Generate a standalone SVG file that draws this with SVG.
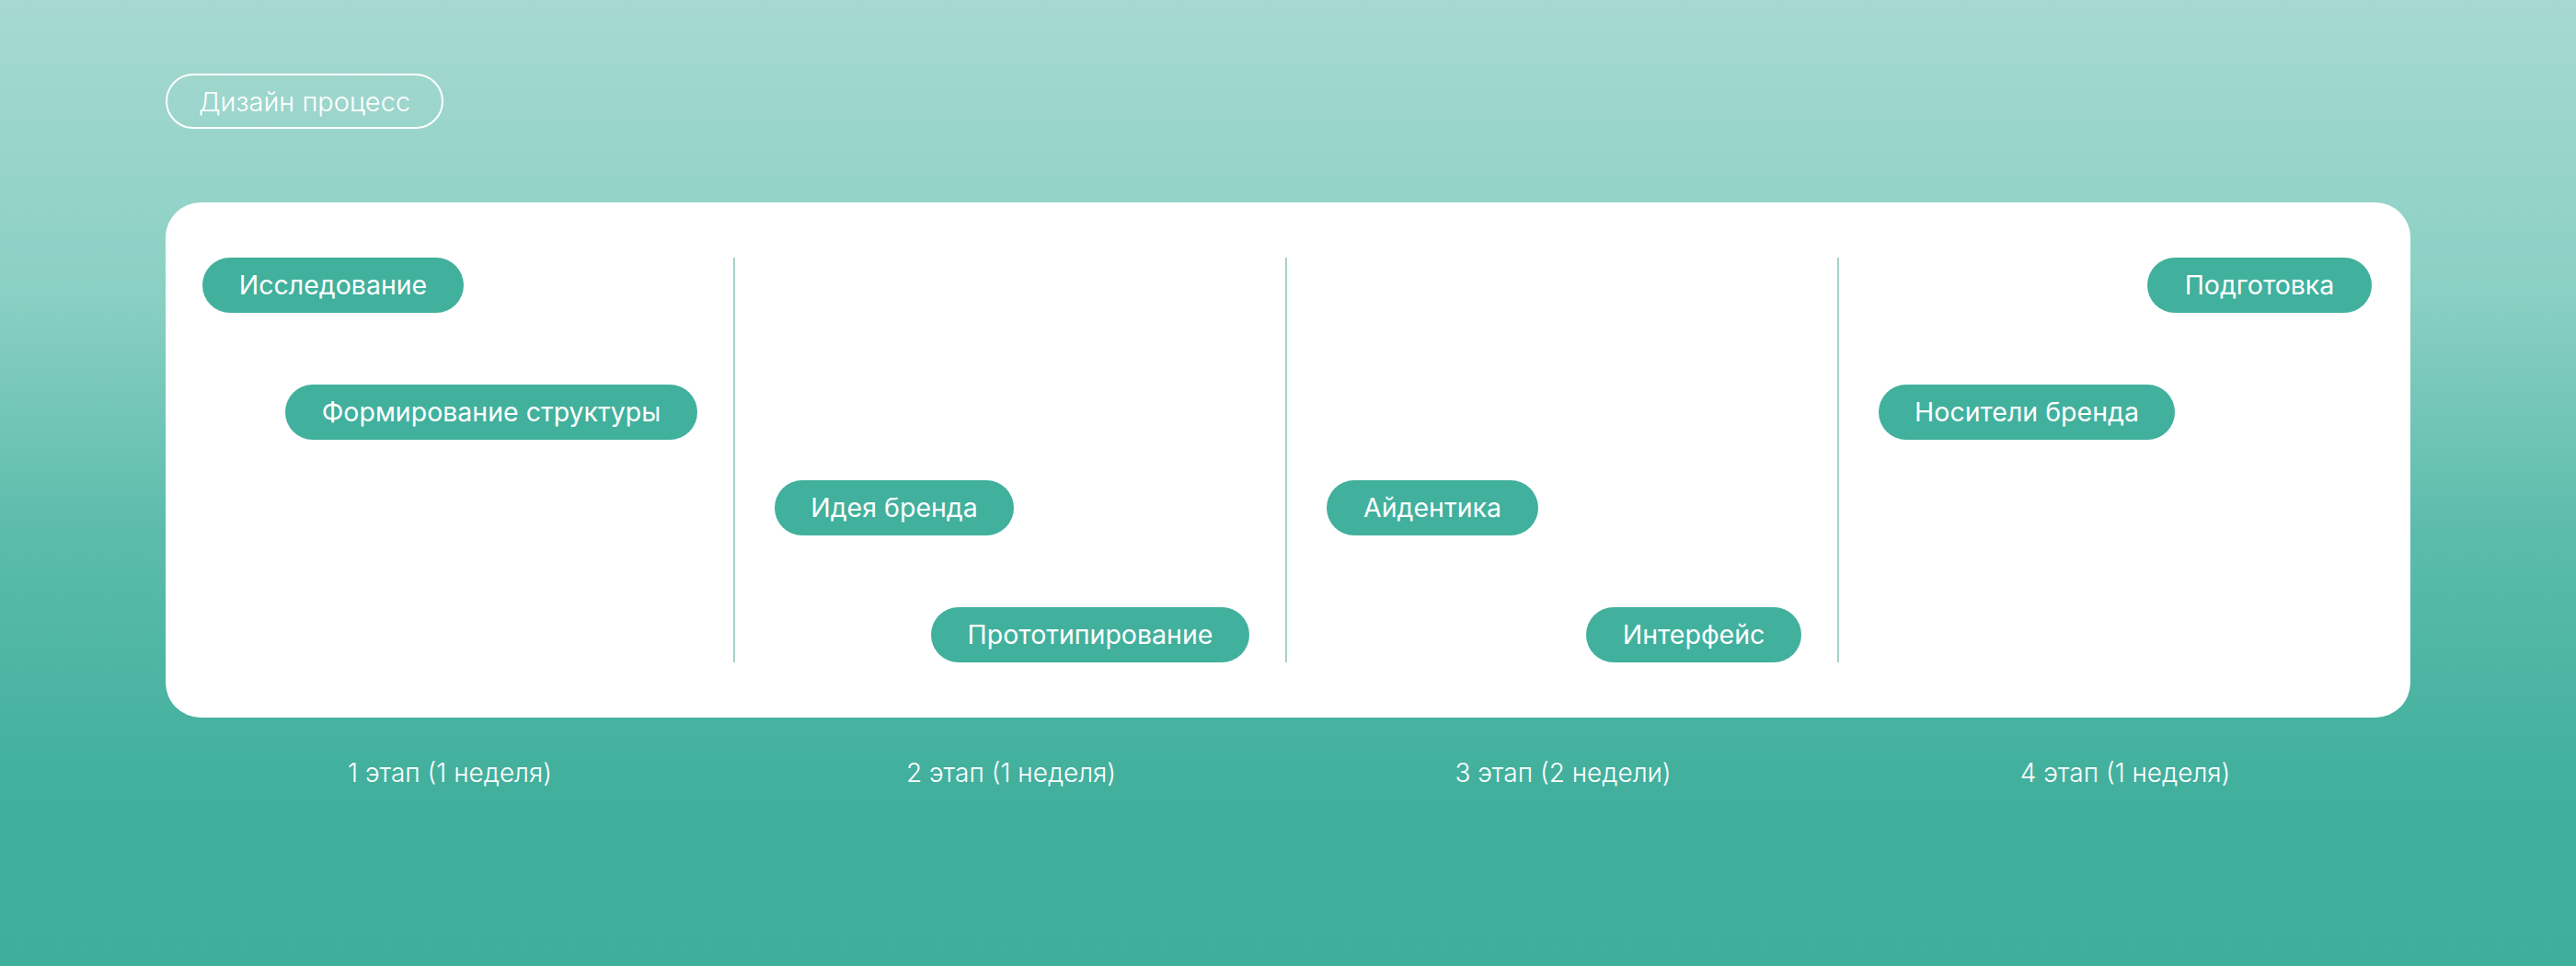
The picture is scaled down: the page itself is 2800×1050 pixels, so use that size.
<svg xmlns="http://www.w3.org/2000/svg" width="2800" height="1050" viewBox="0 0 2800 1050">
  <defs>
    <linearGradient id="bg" x1="0" y1="0" x2="0" y2="1">
      <stop offset="0" stop-color="#a6d9d2"/>
      <stop offset="0.3" stop-color="#8bd0c4"/>
      <stop offset="0.55" stop-color="#5cbcab"/>
      <stop offset="0.8" stop-color="#43b09e"/>
      <stop offset="1" stop-color="#3fae9b"/>
    </linearGradient>
  </defs>
  <style>
    .pill { fill: #41b09d; }
    .ptxt { font-family: Inter, "Noto Sans", "Liberation Sans", sans-serif; font-size: 28.5px; font-weight: 400; fill: #ffffff; text-anchor: middle; }
    .lbl { font-family: Inter, "Noto Sans", "Liberation Sans", sans-serif; font-size: 28px; font-weight: 300; fill: #ffffff; text-anchor: middle; }
    .div { stroke: #a6d0cc; stroke-width: 2; }
  </style>
  <rect x="0" y="0" width="2800" height="1050" fill="url(#bg)"/>

  <g id="title">
    <rect x="181" y="81" width="300" height="58" rx="29" fill="none" stroke="#ffffff" stroke-width="2"/>
    <text x="331" y="121" font-family="Inter, 'Noto Sans', 'Liberation Sans', sans-serif" font-size="29" font-weight="300" fill="#ffffff" text-anchor="middle">Дизайн процесс</text>
  </g>

  <g id="card">
    <rect x="180" y="220" width="2440" height="560" rx="38" fill="#ffffff"/>
  </g>

  <g id="connectors">
    <line class="div" x1="798" y1="280" x2="798" y2="720"/>
    <line class="div" x1="1398" y1="280" x2="1398" y2="720"/>
    <line class="div" x1="1998" y1="280" x2="1998" y2="720"/>
  </g>

  <g id="n-issledovanie">
    <rect class="pill" x="220" y="280" width="284" height="60" rx="30"/>
    <text class="ptxt" x="362" y="320">Исследование</text>
  </g>
  <g id="n-struktura">
    <rect class="pill" x="310" y="418" width="448" height="60" rx="30"/>
    <text class="ptxt" x="534" y="458">Формирование структуры</text>
  </g>
  <g id="n-ideya">
    <rect class="pill" x="842" y="522" width="260" height="60" rx="30"/>
    <text class="ptxt" x="972" y="562">Идея бренда</text>
  </g>
  <g id="n-prototip">
    <rect class="pill" x="1012" y="660" width="346" height="60" rx="30"/>
    <text class="ptxt" x="1185" y="700">Прототипирование</text>
  </g>
  <g id="n-identika">
    <rect class="pill" x="1442" y="522" width="230" height="60" rx="30"/>
    <text class="ptxt" x="1557" y="562">Айдентика</text>
  </g>
  <g id="n-interfeys">
    <rect class="pill" x="1724" y="660" width="234" height="60" rx="30"/>
    <text class="ptxt" x="1841" y="700">Интерфейс</text>
  </g>
  <g id="n-nositeli">
    <rect class="pill" x="2042" y="418" width="322" height="60" rx="30"/>
    <text class="ptxt" x="2203" y="458">Носители бренда</text>
  </g>
  <g id="n-podgotovka">
    <rect class="pill" x="2334" y="280" width="244" height="60" rx="30"/>
    <text class="ptxt" x="2456" y="320">Подготовка</text>
  </g>

  <g id="labels">
    <text class="lbl" x="489" y="850">1 этап (1 неделя)</text>
    <text class="lbl" x="1099" y="850">2 этап (1 неделя)</text>
    <text class="lbl" x="1699" y="850">3 этап (2 недели)</text>
    <text class="lbl" x="2310" y="850">4 этап (1 неделя)</text>
  </g>
</svg>
